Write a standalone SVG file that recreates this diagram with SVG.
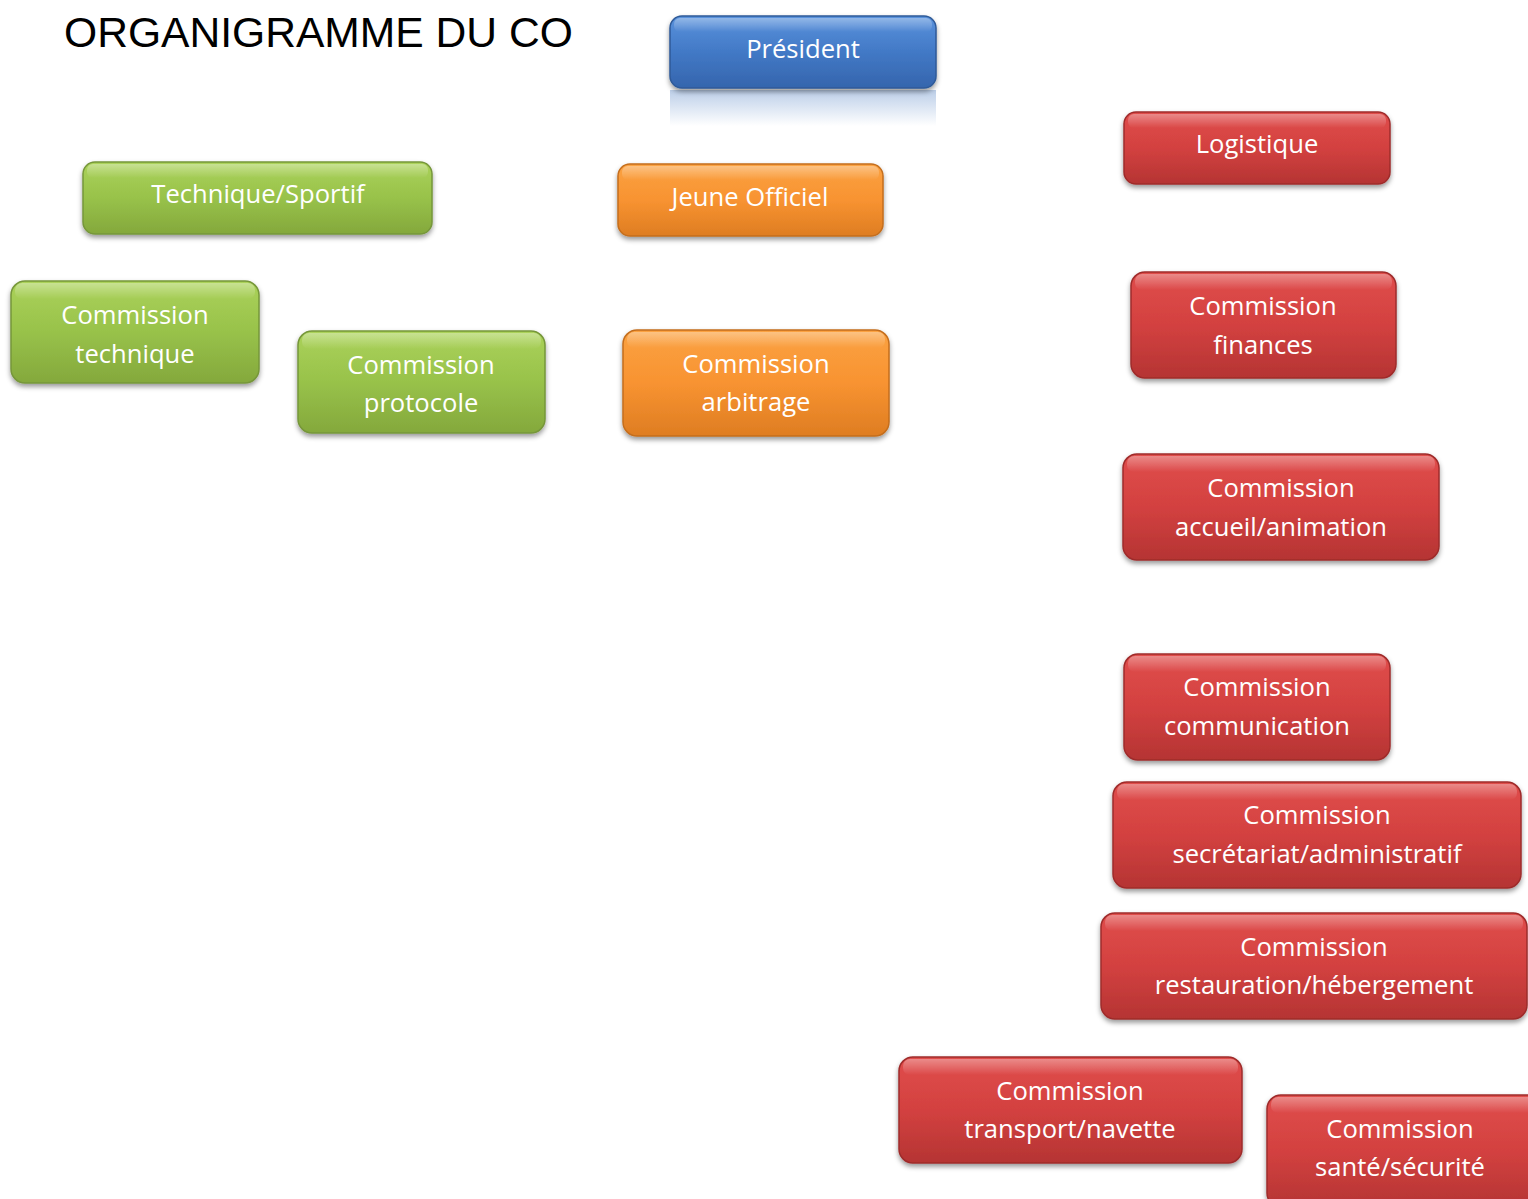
<svg xmlns="http://www.w3.org/2000/svg" width="1528" height="1199" viewBox="0 0 1528 1199">
<defs>
<linearGradient id="gBlue" x1="0" y1="0" x2="0" y2="1">
<stop offset="0" stop-color="#5a92dc"/><stop offset="0.5" stop-color="#4279c6"/><stop offset="1" stop-color="#3565ad"/>
</linearGradient>
<linearGradient id="gGreen" x1="0" y1="0" x2="0" y2="1">
<stop offset="0" stop-color="#abd25a"/><stop offset="0.5" stop-color="#98c24a"/><stop offset="1" stop-color="#84a83c"/>
</linearGradient>
<linearGradient id="gOrange" x1="0" y1="0" x2="0" y2="1">
<stop offset="0" stop-color="#fba242"/><stop offset="0.5" stop-color="#f89331"/><stop offset="1" stop-color="#de7d22"/>
</linearGradient>
<linearGradient id="gRed" x1="0" y1="0" x2="0" y2="1">
<stop offset="0" stop-color="#e04d4b"/><stop offset="0.5" stop-color="#d34140"/><stop offset="1" stop-color="#b53433"/>
</linearGradient>
<linearGradient id="gloss" x1="0" y1="0" x2="0" y2="1">
<stop offset="0" stop-color="#fff" stop-opacity="0.35"/><stop offset="1" stop-color="#fff" stop-opacity="0"/>
</linearGradient>
<linearGradient id="refl" x1="0" y1="0" x2="0" y2="1">
<stop offset="0" stop-color="#3f74be" stop-opacity="0.35"/><stop offset="1" stop-color="#3f74be" stop-opacity="0"/>
</linearGradient>
<filter id="sh" x="-10%" y="-20%" width="120%" height="150%">
<feDropShadow dx="0" dy="3" stdDeviation="2.5" flood-color="#000" flood-opacity="0.4"/>
</filter>
</defs>
<style>
.lbl{font-family:"Open Sans","Liberation Sans",sans-serif;font-size:25.6px;fill:#fff;text-anchor:middle}
.blue{fill:url(#gBlue);stroke:#2f5a98;stroke-width:1.5}
.green{fill:url(#gGreen);stroke:#76963a;stroke-width:1.5}
.orange{fill:url(#gOrange);stroke:#c46e1e;stroke-width:1.5}
.red{fill:url(#gRed);stroke:#9e2c2b;stroke-width:1.5}
.gl{fill:url(#gloss)}
.title{font-family:"Liberation Sans",Arial,sans-serif;font-size:42.6px;fill:#000}
</style>
<text class="title" x="64" y="47">ORGANIGRAMME DU CO</text>
<g id="connectors"></g>
<g id="president">
<rect x="670" y="90" width="266" height="36" fill="url(#refl)"/>
<rect x="670" y="16" width="266" height="72" rx="12" class="blue" filter="url(#sh)"/>
<rect x="674" y="18" width="258" height="14" rx="6" class="gl"/>
<text class="lbl" x="803" y="58">Président</text>
</g>
<g id="technique-sportif">
<rect x="83" y="162" width="349" height="72" rx="12" class="green" filter="url(#sh)"/>
<rect x="87" y="164" width="341" height="14" rx="6" class="gl"/>
<text class="lbl" x="258" y="203">Technique/Sportif</text>
</g>
<g id="jeune-officiel">
<rect x="618" y="164" width="265" height="72" rx="12" class="orange" filter="url(#sh)"/>
<rect x="622" y="166" width="257" height="14" rx="6" class="gl"/>
<text class="lbl" x="750" y="206">Jeune Officiel</text>
</g>
<g id="logistique">
<rect x="1124" y="112" width="266" height="72" rx="12" class="red" filter="url(#sh)"/>
<rect x="1128" y="114" width="258" height="14" rx="6" class="gl"/>
<text class="lbl" x="1257" y="153">Logistique</text>
</g>
<g id="commission-technique">
<rect x="11" y="281" width="248" height="102" rx="14" class="green" filter="url(#sh)"/>
<rect x="15" y="283" width="240" height="16" rx="7" class="gl"/>
<text class="lbl" x="135" y="324">Commission</text>
<text class="lbl" x="135" y="363">technique</text>
</g>
<g id="commission-protocole">
<rect x="298" y="331" width="247" height="102" rx="14" class="green" filter="url(#sh)"/>
<rect x="302" y="333" width="239" height="16" rx="7" class="gl"/>
<text class="lbl" x="421" y="374">Commission</text>
<text class="lbl" x="421" y="412">protocole</text>
</g>
<g id="commission-arbitrage">
<rect x="623" y="330" width="266" height="106" rx="14" class="orange" filter="url(#sh)"/>
<rect x="627" y="332" width="258" height="16" rx="7" class="gl"/>
<text class="lbl" x="756" y="373">Commission</text>
<text class="lbl" x="756" y="411">arbitrage</text>
</g>
<g id="commission-finances">
<rect x="1131" y="272" width="265" height="106" rx="14" class="red" filter="url(#sh)"/>
<rect x="1135" y="274" width="257" height="16" rx="7" class="gl"/>
<text class="lbl" x="1263" y="315">Commission</text>
<text class="lbl" x="1263" y="354">finances</text>
</g>
<g id="commission-accueil">
<rect x="1123" y="454" width="316" height="106" rx="14" class="red" filter="url(#sh)"/>
<rect x="1127" y="456" width="308" height="16" rx="7" class="gl"/>
<text class="lbl" x="1281" y="497">Commission</text>
<text class="lbl" x="1281" y="536">accueil/animation</text>
</g>
<g id="commission-communication">
<rect x="1124" y="654" width="266" height="106" rx="14" class="red" filter="url(#sh)"/>
<rect x="1128" y="656" width="258" height="16" rx="7" class="gl"/>
<text class="lbl" x="1257" y="696">Commission</text>
<text class="lbl" x="1257" y="735">communication</text>
</g>
<g id="commission-secretariat">
<rect x="1113" y="782" width="408" height="106" rx="14" class="red" filter="url(#sh)"/>
<rect x="1117" y="784" width="400" height="16" rx="7" class="gl"/>
<text class="lbl" x="1317" y="824">Commission</text>
<text class="lbl" x="1317" y="863">secrétariat/administratif</text>
</g>
<g id="commission-restauration">
<rect x="1101" y="913" width="426" height="106" rx="14" class="red" filter="url(#sh)"/>
<rect x="1105" y="915" width="418" height="16" rx="7" class="gl"/>
<text class="lbl" x="1314" y="956">Commission</text>
<text class="lbl" x="1314" y="994">restauration/hébergement</text>
</g>
<g id="commission-transport">
<rect x="899" y="1057" width="343" height="106" rx="14" class="red" filter="url(#sh)"/>
<rect x="903" y="1059" width="335" height="16" rx="7" class="gl"/>
<text class="lbl" x="1070" y="1100">Commission</text>
<text class="lbl" x="1070" y="1138">transport/navette</text>
</g>
<g id="commission-sante">
<rect x="1267" y="1095" width="275" height="112" rx="14" class="red" filter="url(#sh)"/>
<rect x="1271" y="1097" width="267" height="16" rx="7" class="gl"/>
<text class="lbl" x="1400" y="1138">Commission</text>
<text class="lbl" x="1400" y="1176">santé/sécurité</text>
</g>
</svg>
